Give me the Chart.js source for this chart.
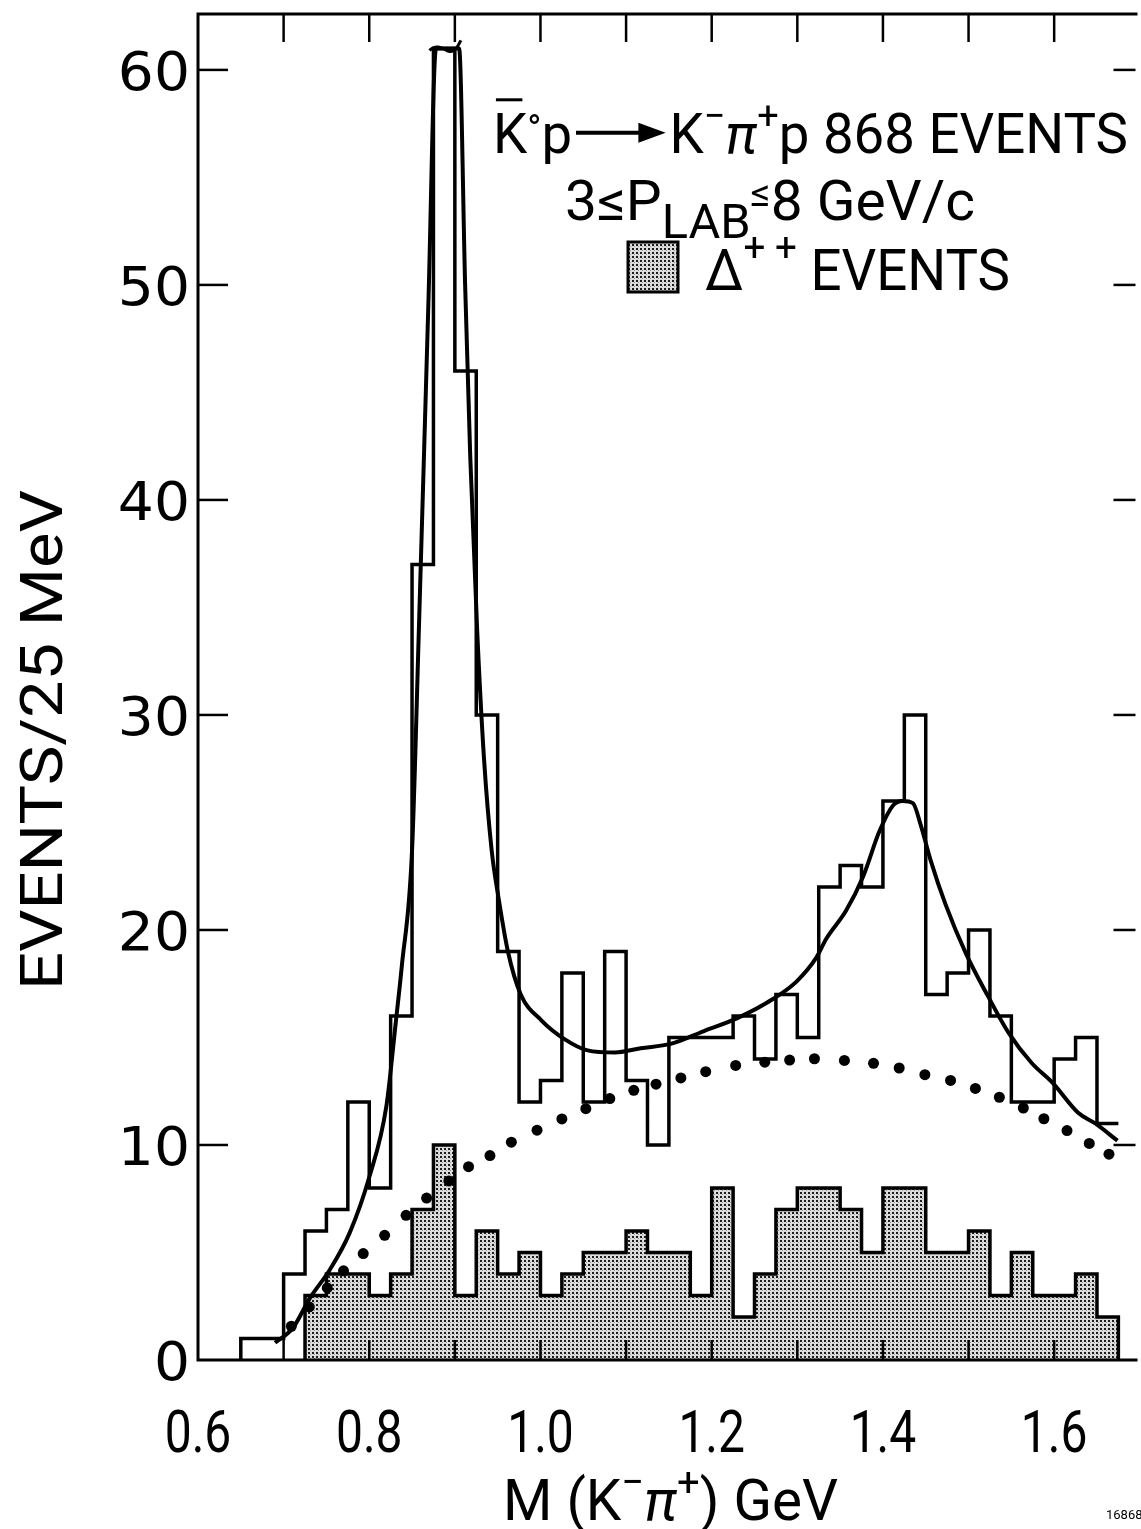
<!DOCTYPE html>
<html>
<head>
<meta charset="utf-8">
<script src="https://cdn.jsdelivr.net/npm/chart.js@4/dist/chart.umd.min.js"></script>
<style>
  html, body { margin: 0; padding: 0; background: #fff; }
  #wrap { width: 1141px; height: 1529px; }
</style>
</head>
<body>
<div id="wrap"><canvas id="chart" width="1141" height="1529"></canvas></div>
<script>
// histogram bins, 25 MeV wide
const binWidth = 0.025;
const totalStart = 0.65;
const totalCounts = [1,1,4,6,7,12,8,16,37,61,46,30,19,12,13,18,12,19,13,10,
                     15,15,15,16,14,17,15,22,23,22,26,30,17,18,20,16,12,12,14,15,11];
const deltaStart = 0.725;
const deltaCounts = [3,4,4,3,4,7,10,3,6,4,5,3,4,5,5,6,5,5,3,8,
                     2,4,7,8,8,7,5,8,8,5,5,6,3,5,3,3,4,2];

// solid fit curve
const fitX = [0.690,0.711,0.731,0.754,0.777,0.800,0.820,0.831,0.838,0.850,0.858,0.869,0.878,
              0.905,0.912,0.918,0.926,0.934,0.943,0.951,0.962,0.977,1.001,1.029,1.055,1.087,
              1.117,1.152,1.191,1.230,1.272,1.299,1.322,1.334,1.357,1.377,1.396,1.412,1.423,
              1.435,1.444,1.456,1.473,1.497,1.523,1.547,1.574,1.598,1.628,1.648,1.674];
const fitY = [0.8,1.5,2.9,4.2,5.9,8.5,11.8,15.7,18.3,23.7,34,49,61,
              61,50,42,34,28,23.7,21.5,19,17,15.8,14.9,14.4,14.3,
              14.5,14.7,15.3,15.9,16.8,17.6,18.7,19.6,20.9,22.5,24.6,25.8,26.0,
              25.9,24.9,23.2,21.2,18.9,16.9,15.2,13.8,12.9,11.5,11,10.2];

// dotted background curve
const bgX = [0.709,0.730,0.751,0.770,0.793,0.818,0.843,0.867,0.893,0.916,0.941,0.966,0.996,
             1.025,1.053,1.081,1.109,1.135,1.164,1.193,1.228,1.262,1.291,1.320,1.355,1.389,
             1.419,1.449,1.479,1.508,1.536,1.564,1.588,1.615,1.641,1.664];
const bgY = [1.57,2.47,3.35,4.15,4.95,5.80,6.73,7.53,8.33,8.99,9.51,10.13,10.69,
             11.21,11.69,12.16,12.54,12.83,13.12,13.41,13.70,13.85,13.95,14.01,13.93,13.80,
             13.58,13.27,13.00,12.63,12.22,11.72,11.22,10.67,10.07,9.57];

const xTickValues = [0.6,0.8,1.0,1.2,1.4,1.6];
const xTickLabels = ["0.6","0.8","1.0","1.2","1.4","1.6"];
const xMarkValues = [0.7,0.8,0.9,1.0,1.1,1.2,1.3,1.4,1.5,1.6];
const yTickValues = [0,10,20,30,40,50,60];
const yTickLabels = ["0","10","20","30","40","50","60"];

const FONT = "Roboto, 'Liberation Sans', sans-serif";
const NUMFONT = "'DejaVu Sans', sans-serif";

function stepPoints(start, counts, closeEnd){
  const pts = [{x: start, y: 0}];
  counts.forEach((c, i) => pts.push({x: start + i*binWidth, y: c}));
  const end = start + counts.length*binWidth;
  pts.push({x: end, y: counts[counts.length-1]});
  if (closeEnd) pts.push({x: end, y: 0});
  return pts;
}

const canvas = document.getElementById("chart");
const ctx = canvas.getContext("2d");

function makeStipple(){
  const c = document.createElement("canvas");
  c.width = 4; c.height = 4;
  const g = c.getContext("2d");
  g.fillStyle = "#dcdcdc"; g.fillRect(0,0,4,4);
  g.fillStyle = "#1c1c1c"; g.fillRect(0,0,2,2);
  g.fillStyle = "#9a9a9a"; g.fillRect(2,2,1,1);
  return ctx.createPattern(c, "repeat");
}
const stipple = makeStipple();

function runFont(r, size, family){
  let s = size;
  if (r.sup || r.sub) s = size*(r.scale || 0.7);
  return (r.it ? "italic " : "") + Math.round(s) + "px " + family;
}

// draws a run of text pieces (sup/sub/overbar/arrow), squeezed to a given width
function drawRich(c, runs, x, base, width, size, family){
  const ws = runs.map(r => {
    if (r.arrow) return r.w;
    c.font = runFont(r, size, family);
    return c.measureText(r.t).width + (r.gap || 0);
  });
  const total = ws.reduce((a,b) => a+b, 0);
  const sx = width ? width/total : 1;
  c.save();
  c.translate(x, base);
  c.scale(sx, 1);
  c.fillStyle = "#000"; c.strokeStyle = "#000";
  c.textBaseline = "alphabetic"; c.textAlign = "left";
  let cx = 0;
  runs.forEach((r, i) => {
    const dy = r.sup ? -size*(r.up || 0.42) : r.sub ? size*0.33 : 0;
    if (r.arrow){
      const my = -size*0.36;
      c.lineWidth = 4;
      c.beginPath(); c.moveTo(cx+4, my); c.lineTo(cx+r.w-24, my); c.stroke();
      c.beginPath(); c.moveTo(cx+r.w-32, my-10); c.lineTo(cx+r.w-4, my); c.lineTo(cx+r.w-32, my+10);
      c.closePath(); c.fill();
    } else {
      c.font = runFont(r, size, family);
      c.fillText(r.t, cx, dy);
      if (r.bar){
        c.lineWidth = 3;
        c.beginPath(); c.moveTo(cx+3, -size*0.95); c.lineTo(cx+ws[i]-5, -size*0.95); c.stroke();
      }
    }
    cx += ws[i];
  });
  c.restore();
}

const framePlugin = {
  id: "frame",
  afterDraw(chart){
    const c = chart.ctx;
    const a = chart.chartArea;
    const x = chart.scales.x, y = chart.scales.y;
    c.save();
    c.strokeStyle = "#000";
    c.lineWidth = 3;
    c.beginPath();
    c.moveTo(a.right+2, a.top); c.lineTo(a.left, a.top);
    c.lineTo(a.left, a.bottom); c.lineTo(a.right+2, a.bottom);
    c.stroke();

    c.lineWidth = 2.5;
    xMarkValues.forEach(v => {
      const px = x.getPixelForValue(v);
      c.beginPath(); c.moveTo(px, a.bottom); c.lineTo(px, a.bottom-20); c.stroke();
      c.beginPath(); c.moveTo(px, a.top); c.lineTo(px, a.top+28); c.stroke();
    });
    yTickValues.forEach(v => {
      if (v === 0) return;
      const py = y.getPixelForValue(v);
      c.beginPath(); c.moveTo(a.left, py); c.lineTo(a.left+30, py); c.stroke();
      c.beginPath(); c.moveTo(a.right-22, py); c.lineTo(a.right, py); c.stroke();
    });

    // break mark on top of the cut-off peak
    const pk = totalCounts.indexOf(Math.max(...totalCounts));
    const pl = x.getPixelForValue(totalStart + pk*binWidth) - 4;
    const pr = x.getPixelForValue(totalStart + (pk+1)*binWidth) + 6;
    const pt = y.getPixelForValue(totalCounts[pk]);
    c.lineWidth = 3;
    c.beginPath();
    c.moveTo(pl, pt+2);
    c.bezierCurveTo(pl+8, pt-6, (pl+pr)/2, pt+2, (pl+pr)/2+4, pt+3);
    c.bezierCurveTo(pr-6, pt+4, pr-3, pt-2, pr, pt-8);
    c.stroke();

    // tick labels
    c.fillStyle = "#000";
    c.textBaseline = "alphabetic";
    xTickValues.forEach((v, i) => {
      const px = x.getPixelForValue(v);
      c.save();
      c.translate(px, 1452);
      c.scale(0.8, 1);
      c.font = "60px " + FONT;
      c.textAlign = "center";
      c.fillText(xTickLabels[i], 0, 0);
      c.restore();
    });
    yTickValues.forEach((v, i) => {
      const py = y.getPixelForValue(v);
      c.save();
      c.translate(190, py + 20);
      c.scale(1.05, 1);
      c.font = "54px " + NUMFONT;
      c.textAlign = "right";
      c.fillText(yTickLabels[i], 0, 0);
      c.restore();
    });

    // axis titles
    drawRich(c, [{t: "M (K"}, {t: "\u2212", sup: true}, {t: "\u03c0", it: true},
                 {t: "+", sup: true}, {t: ") GeV"}], 503, 1520, 335, 58, FONT);
    c.save();
    c.translate(62, 990);
    c.rotate(-Math.PI/2);
    drawRich(c, [{t: "EVENTS/25 MeV"}], 0, 0, 500, 60, FONT);
    c.restore();

    // legend block
    drawRich(c, [{t: "K", bar: true}, {t: "\u00b0", sup: true, up: 0.2}, {t: "p"},
                 {arrow: true, w: 100}, {t: "K"}, {t: "\u2212", sup: true},
                 {t: "\u03c0", it: true}, {t: "+", sup: true}, {t: "p 868 EVENTS"}],
             493, 153, 635, 56, FONT);
    drawRich(c, [{t: "3\u2264P"}, {t: "LAB", sub: true, scale: 0.85},
                 {t: "\u2264", sup: true, up: 0.25}, {t: "8 GeV/c"}],
             565, 220, 410, 56, FONT);
    c.fillStyle = stipple;
    c.fillRect(628, 242, 50, 50);
    c.lineWidth = 3;
    c.strokeRect(628, 242, 50, 50);
    drawRich(c, [{t: "\u0394"}, {t: "+ +", sup: true, up: 0.5}, {t: " EVENTS"}],
             705, 290, 305, 58, FONT);

    c.fillStyle = "#000";
    c.font = "13px " + FONT;
    c.textAlign = "left";
    c.fillText("16868", 1106, 1519);
    c.restore();
  }
};

new Chart(canvas, {
  type: "line",
  data: {
    datasets: [
      {
        label: "fit",
        data: fitX.map((v, i) => ({x: v, y: fitY[i]})),
        borderColor: "#000", borderWidth: 4,
        cubicInterpolationMode: "monotone",
        pointRadius: 0, fill: false
      },
      {
        label: "background",
        data: bgX.map((v, i) => ({x: v, y: bgY[i]})),
        showLine: false,
        pointRadius: 5.5, pointBackgroundColor: "#000", pointBorderWidth: 0
      },
      {
        label: "all events",
        data: stepPoints(totalStart, totalCounts, false),
        stepped: true,
        borderColor: "#000", borderWidth: 3.5,
        pointRadius: 0, fill: false
      },
      {
        label: "delta++ events",
        data: stepPoints(deltaStart, deltaCounts, true),
        stepped: true,
        borderColor: "#000", borderWidth: 3.5,
        backgroundColor: stipple, fill: "origin",
        pointRadius: 0
      }
    ]
  },
  options: {
    responsive: false,
    animation: false,
    layout: { padding: { left: 198, right: 0, top: 14, bottom: 169 } },
    plugins: { legend: { display: false }, tooltip: { enabled: false } },
    scales: {
      x: { type: "linear", min: 0.6, max: 1.695, display: false },
      y: { min: 0, max: 62.6, display: false }
    }
  },
  plugins: [framePlugin]
});
</script>
</body>
</html>
